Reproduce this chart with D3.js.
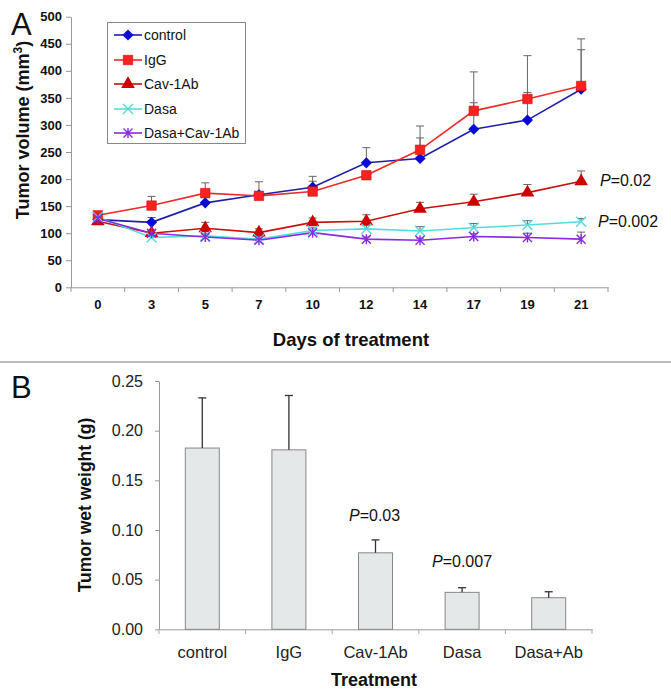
<!DOCTYPE html>
<meta charset="utf-8">
<head>
  <title>Tumor volume and wet weight</title>
</head>
<style>
body { margin: 0; background: #fff; }
svg { font-family: "Liberation Sans", Arial, sans-serif; }
.axis path, .axis line { stroke: #999; }
</style>
<body>
<script src="https://cdn.jsdelivr.net/npm/d3@7"></script>
<script>

// Panel A data: tumor volume (mm3) by day
var days = ["0", "3", "5", "7", "10", "12", "14", "17", "19", "21"];
var seriesNames = ["control", "IgG", "Cav-1Ab", "Dasa", "Dasa+Cav-1Ab"];
var controlVals = [125, 120, 156, 171, 185, 230, 238, 292, 309, 366];
var controlErr  = [6, 9, 10, 24, 20, 28, 38, 49, 119, 73];
var iggVals     = [133, 151, 174, 169, 177, 207, 254, 326, 348, 372];
var iggErr      = [6, 17, 19, 6, 19, 6, 44, 72, 12, 87];
var cavVals     = [122, 100, 109, 101, 120, 122, 145, 158, 175, 196];
var cavErr      = [5, 5, 11, 7, 8, 12, 12, 14, 15, 19];
var dasaVals    = [130, 92, 95, 89, 105, 108, 104, 110, 115, 121];
var dasaErr     = [5, 4, 4, 4, 5, 6, 8, 8, 8, 6];
var comboVals   = [127, 100, 93, 87, 101, 89, 87, 94, 92, 89];
var comboErr    = [5, 5, 4, 3, 5, 4, 4, 5, 8, 13];
var volTicks = [0, 50, 100, 150, 200, 250, 300, 350, 400, 450, 500];

// Panel B data: tumor wet weight (g)
var treatments = ["control", "IgG", "Cav-1Ab", "Dasa", "Dasa+Ab"];
var weightVals = [0.1825, 0.1807, 0.077, 0.0372, 0.0318];
var weightErr  = [0.0505, 0.0547, 0.013, 0.0047, 0.006];
var weightTicks = [0, 0.05, 0.10, 0.15, 0.20, 0.25];

var FONT = "'Liberation Sans', Arial, sans-serif";
var width = 671, height = 699;
var svg = d3.select("body").append("svg")
    .attr("width", width)
    .attr("height", height);

// ---------- Panel A ----------
var gA = svg.append("g");
var xA = d3.scaleBand().domain(days).range([71, 608]).padding(0);
var yA = d3.scaleLinear().domain([0, 500]).range([287.3, 16.7]);

// y axis
var yAxisA = gA.append("g").attr("class", "axis")
    .attr("transform", "translate(71,0)")
    .call(d3.axisLeft(yA).tickValues(volTicks).tickSize(5).tickSizeOuter(0));
yAxisA.selectAll("text").attr("font-size", 13).attr("font-weight", "bold")
    .attr("fill", "#111").attr("font-family", FONT).attr("x", -9);

// x axis line + ticks at band edges
var xAxisA = gA.append("g").attr("class", "axis")
    .attr("transform", "translate(0,287.3)")
    .call(d3.axisBottom(xA).tickSize(0).tickSizeOuter(0));
xAxisA.selectAll("text").attr("font-size", 13).attr("font-weight", "bold")
    .attr("fill", "#111").attr("font-family", FONT).attr("y", 12);
var edgesA = days.map(function(d) { return xA(d); }).concat([xA.range()[1]]);
gA.selectAll(".edgeA").data(edgesA).enter().append("line")
    .attr("x1", function(d) { return d; }).attr("x2", function(d) { return d; })
    .attr("y1", 287.3).attr("y2", 292).attr("stroke", "#999");

gA.append("text").attr("x", 351).attr("y", 346).attr("text-anchor", "middle")
    .attr("font-size", 18.5).attr("font-weight", "bold").attr("fill", "#111")
    .text("Days of treatment");

var yTitleA = gA.append("text")
    .attr("transform", "translate(29,130) rotate(-90)")
    .attr("text-anchor", "middle").attr("font-size", 18).attr("font-weight", "bold").attr("fill", "#111");
yTitleA.append("tspan").text("Tumor volume (mm");
yTitleA.append("tspan").attr("font-size", 12).attr("dy", -7).text("3");
yTitleA.append("tspan").attr("dy", 7).text(")");

gA.append("text").attr("x", 11).attr("y", 35).attr("font-size", 31).attr("fill", "#111").text("A");

// series definitions
var crossPath = "M-5,-5L5,5M-5,5L5,-5";
var starPath = "M-4.5,-4.5L4.5,4.5M-4.5,4.5L4.5,-4.5M0,-5L0,5";
var series = [
  { name: seriesNames[0], vals: controlVals, err: controlErr, line: "#1f1fa8", fill: "#0a0ad6", shape: "diamond" },
  { name: seriesNames[1], vals: iggVals, err: iggErr, line: "#ee2a2a", fill: "#ff2020", shape: "square" },
  { name: seriesNames[2], vals: cavVals, err: cavErr, line: "#c81010", fill: "#cc0000", shape: "triangle" },
  { name: seriesNames[3], vals: dasaVals, err: dasaErr, line: "#55dcdc", fill: "#55dcdc", shape: "cross" },
  { name: seriesNames[4], vals: comboVals, err: comboErr, line: "#8a2be2", fill: "#8a2be2", shape: "star" }
];

function drawMarker(sel, s) {
  if (s.shape === "diamond") {
    sel.append("path").attr("d", d3.symbol().type(d3.symbolSquare).size(62)())
      .attr("transform", "rotate(45)").attr("fill", s.fill);
  } else if (s.shape === "square") {
    sel.append("path").attr("d", d3.symbol().type(d3.symbolSquare).size(90)())
      .attr("fill", s.fill).attr("stroke", "#d01010").attr("stroke-width", 0.6);
  } else if (s.shape === "triangle") {
    sel.append("path").attr("d", d3.symbol().type(d3.symbolTriangle).size(80)())
      .attr("fill", s.fill);
  } else if (s.shape === "cross") {
    sel.append("path").attr("d", crossPath).attr("stroke", s.fill).attr("stroke-width", 1.4).attr("fill", "none");
  } else {
    sel.append("path").attr("d", starPath).attr("stroke", s.fill).attr("stroke-width", 1.4).attr("fill", "none");
  }
}

var cx = function(i) { return xA(days[i]) + xA.bandwidth() / 2; };

// error bars (upper)
series.forEach(function(s) {
  var eb = gA.append("g");
  s.vals.forEach(function(v, i) {
    var top = yA(v + s.err[i]);
    eb.append("line").attr("x1", cx(i)).attr("x2", cx(i))
      .attr("y1", yA(v)).attr("y2", top).attr("stroke", "#666").attr("stroke-width", 1);
    eb.append("line").attr("x1", cx(i) - 4).attr("x2", cx(i) + 4)
      .attr("y1", top).attr("y2", top).attr("stroke", "#666").attr("stroke-width", 1);
  });
});

var lineGen = d3.line().x(function(d, i) { return cx(i); }).y(function(d) { return yA(d); });
series.forEach(function(s) {
  gA.append("path").datum(s.vals).attr("d", lineGen)
    .attr("fill", "none").attr("stroke", s.line).attr("stroke-width", 1.6);
});
series.forEach(function(s) {
  s.vals.forEach(function(v, i) {
    var m = gA.append("g").attr("transform", "translate(" + cx(i) + "," + yA(v) + ")");
    drawMarker(m, s);
  });
});

// legend
var legend = gA.append("g");
legend.append("rect").attr("x", 107.5).attr("y", 22.5).attr("width", 138).attr("height", 121)
  .attr("fill", "#fff").attr("stroke", "#888").attr("stroke-width", 1);
var legY = [35, 60, 84, 109, 133];
series.forEach(function(s, i) {
  var row = legend.append("g").attr("transform", "translate(0," + legY[i] + ")");
  row.append("line").attr("x1", 114).attr("x2", 142).attr("y1", 0).attr("y2", 0)
    .attr("stroke", s.line).attr("stroke-width", 1.6);
  drawMarker(row.append("g").attr("transform", "translate(128,0)"), s);
  row.append("text").attr("x", 144).attr("y", 5).attr("font-size", 14).attr("fill", "#111").text(s.name);
});

// p-values A
function pLabel(g, x, y, val, size) {
  var t = g.append("text").attr("x", x).attr("y", y).attr("font-size", size).attr("fill", "#111");
  t.append("tspan").attr("font-style", "italic").text("P");
  t.append("tspan").text("=" + val);
}
pLabel(gA, 600, 186, "0.02", 16);
pLabel(gA, 598, 227, "0.002", 16);

// separator
svg.append("line").attr("x1", 0).attr("x2", width).attr("y1", 362).attr("y2", 362)
  .attr("stroke", "#bbb").attr("stroke-width", 2);

// ---------- Panel B ----------
var gB = svg.append("g");
var xB = d3.scaleBand().domain(treatments).range([159, 592]).padding(0);
var yB = d3.scaleLinear().domain([0, 0.25]).range([629.3, 381]);

var yAxisB = gB.append("g").attr("class", "axis")
    .attr("transform", "translate(159,0)")
    .call(d3.axisLeft(yB).tickValues(weightTicks).tickFormat(d3.format(".2f")).tickSize(4).tickSizeOuter(0));
yAxisB.selectAll("text").attr("font-size", 16).attr("fill", "#222")
    .attr("font-family", FONT).attr("x", -16);
yAxisB.selectAll("path, line").attr("stroke", "#aaa");

var xAxisB = gB.append("g").attr("class", "axis")
    .attr("transform", "translate(0,629.3)")
    .call(d3.axisBottom(xB).tickSize(0).tickSizeOuter(0));
xAxisB.selectAll("text").attr("font-size", 16.5).attr("fill", "#222")
    .attr("font-family", FONT).attr("y", 17);
xAxisB.selectAll("path").attr("stroke", "#aaa");
var edgesB = treatments.map(function(d) { return xB(d); }).concat([xB.range()[1]]);
gB.selectAll(".edgeB").data(edgesB).enter().append("line")
    .attr("x1", function(d) { return d; }).attr("x2", function(d) { return d; })
    .attr("y1", 629.3).attr("y2", 634).attr("stroke", "#aaa");

var barW = 34;
gB.selectAll(".bar").data(weightVals).enter().append("rect")
    .attr("x", function(d, i) { return xB(treatments[i]) + xB.bandwidth() / 2 - barW / 2; })
    .attr("y", function(d) { return yB(d); })
    .attr("width", barW)
    .attr("height", function(d) { return yB(0) - yB(d); })
    .attr("fill", "#e5e8e8").attr("stroke", "#888").attr("stroke-width", 1);

weightVals.forEach(function(v, i) {
  var x = xB(treatments[i]) + xB.bandwidth() / 2;
  var top = yB(v + weightErr[i]);
  gB.append("line").attr("x1", x).attr("x2", x).attr("y1", yB(v)).attr("y2", top)
    .attr("stroke", "#333").attr("stroke-width", 1.3);
  gB.append("line").attr("x1", x - 4).attr("x2", x + 4).attr("y1", top).attr("y2", top)
    .attr("stroke", "#333").attr("stroke-width", 1.3);
});

gB.append("text").attr("x", 374).attr("y", 686).attr("text-anchor", "middle")
    .attr("font-size", 18).attr("font-weight", "bold").attr("fill", "#111").text("Treatment");
gB.append("text").attr("transform", "translate(91,505) rotate(-90)")
    .attr("text-anchor", "middle").attr("font-size", 17.5).attr("font-weight", "bold").attr("fill", "#111")
    .text("Tumor wet weight (g)");
gB.append("text").attr("x", 11).attr("y", 398).attr("font-size", 31).attr("fill", "#111").text("B");

pLabel(gB, 349, 521, "0.03", 16);
pLabel(gB, 432, 567, "0.007", 16);

</script>
</body>
